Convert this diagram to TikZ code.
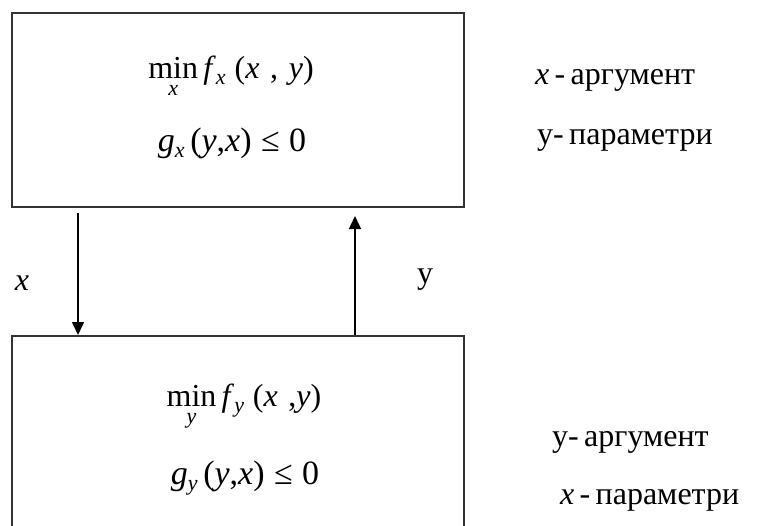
\documentclass[tikz,border=0pt]{standalone}
\usepackage{fontspec}
\setmainfont{Liberation Serif}
\usetikzlibrary{arrows.meta}
\newcommand\SubFont{\fontsize{22}{22}\selectfont\itshape}
\newcommand\MinOf[1]{\vtop{\offinterlineskip\halign{\hfil##\hfil\cr min\cr\noalign{\kern7pt}\SubFont #1\cr}}}
\newcommand\SubL[1]{\raisebox{-6pt}{\SubFont #1}}
\begin{document}
\begin{tikzpicture}[x=1pt,y=-1pt,
  box/.style={draw=black!80,line width=1.6pt,minimum width=452pt,minimum height=194pt,inner sep=0pt},
  txt/.style={font=\fontsize{32}{34}\selectfont,inner sep=0pt},
  gtxt/.style={font=\fontsize{34}{36}\selectfont,inner sep=0pt},
  flow/.style={line width=1.5pt,-{Triangle[length=13pt,width=12pt]}}]
\useasboundingbox (0,0) rectangle (763,525);
\clip (0,0) rectangle (763,525);
\node[box] (top) at (238,110) {};
\node[box] (bot) at (238,433) {};
\node[txt,anchor=base] (t1) at (231,78) {\MinOf{x}\,\textit{f}\SubL{x}\;(\textit{x}\,\,,\,\,\textit{y})};
\node[gtxt,anchor=base] (t2) at (232,151) {\textit{g}\SubL{x}\,(\textit{y},\textit{x})\;≤\;0};
\node[txt,anchor=base] (b1) at (244,406) {\MinOf{y}\,\textit{f}\SubL{y}\;(\textit{x}\,\,,\textit{y})};
\node[gtxt,anchor=base] (b2) at (245,484) {\textit{g}\SubL{y}\,(\textit{y},\textit{x})\;≤\;0};
\coordinate (a1s) at (78,213);
\coordinate (a1e) at (78,335);
\coordinate (a2s) at (355,335);
\coordinate (a2e) at (355,216);
\draw[flow] (a1s) -- (a1e);
\draw[flow] (a2s) -- (a2e);
\node[txt,anchor=base] (lx) at (22,290) {\textit{x}};
\node[txt,anchor=base] (ly) at (425,283) {у};
\node[txt,anchor=base west] (r1) at (535,84) {\textit{x}\,-\,аргумент};
\node[txt,anchor=base west] (r2) at (537,144) {у-\,параметри};
\node[txt,anchor=base west] (r3) at (552,446) {у-\,аргумент};
\node[txt,anchor=base west] (r4) at (560,504) {\textit{x}\,-\,параметри};
\end{tikzpicture}
\end{document}
